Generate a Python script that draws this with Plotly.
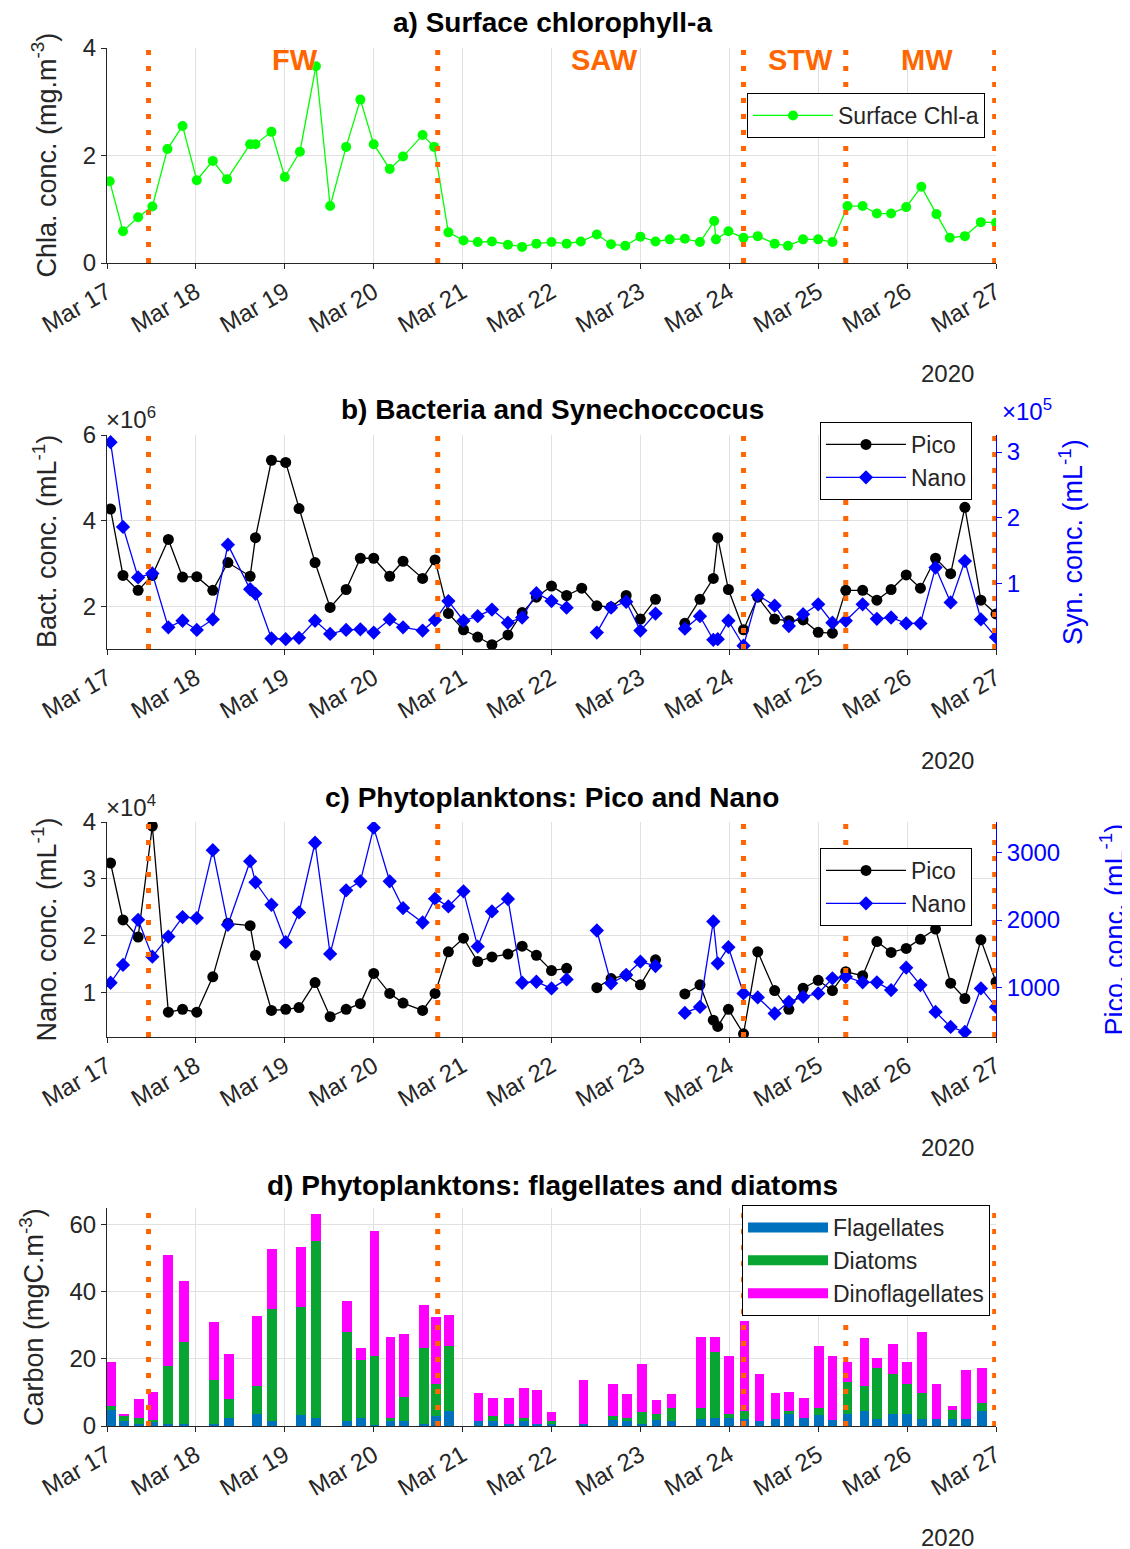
import plotly.graph_objects as go
import pandas as pd

# ---------------- DATA ----------------
START = "2020-03-17"

# sampling times, in days after 2020-03-17 00:00
t_chl = [0.03,0.18,0.35,0.51,0.68,0.85,1.01,1.19,1.35,1.61,1.67,1.85,2.00,2.17,2.35,2.51,2.69,2.85,3.00,3.18,3.33,3.55,3.68,3.84,4.01,4.17,4.33,4.51,4.67,4.83,5.00,5.17,5.33,5.51,5.67,5.83,6.00,6.17,6.33,6.50,6.67,6.83,6.85,6.99,7.16,7.32,7.51,7.66,7.83,8.00,8.16,8.33,8.50,8.66,8.82,8.99,9.16,9.33,9.48,9.65,9.83,10.0]
chl = [1.52,0.59,0.85,1.05,2.12,2.55,1.54,1.90,1.56,2.21,2.21,2.44,1.60,2.07,3.66,1.06,2.16,3.04,2.21,1.75,1.98,2.38,2.16,0.57,0.42,0.39,0.40,0.34,0.30,0.36,0.39,0.36,0.40,0.53,0.35,0.32,0.49,0.40,0.44,0.45,0.39,0.78,0.44,0.59,0.47,0.50,0.36,0.32,0.44,0.44,0.39,1.06,1.06,0.92,0.92,1.04,1.42,0.91,0.47,0.50,0.76,0.75]

t_fcm = [0.04,0.18,0.35,0.51,0.69,0.85,1.01,1.19,1.36,1.61,1.67,1.85,2.01,2.16,2.34,2.51,2.69,2.85,3.00,3.18,3.33,3.55,3.69,3.84,4.01,4.17,4.33,4.51,4.67,4.83,5.00,5.17,5.34,5.51,5.67,5.84,6.00,6.17,6.33,6.50,6.67,6.82,6.87,6.99,7.16,7.32,7.51,7.67,7.83,8.00,8.16,8.31,8.50,8.66,8.82,8.99,9.15,9.32,9.49,9.65,9.83,10.0]
# panel b: bacteria (x1e6, left) and synechococcus (x1e5, right)
bact = [4.27,2.72,2.37,2.72,3.56,2.68,2.69,2.37,3.02,2.70,3.60,5.41,5.36,4.28,3.02,1.97,2.39,3.12,3.12,2.70,3.05,2.65,3.08,1.83,1.45,1.28,1.10,1.33,1.85,2.21,2.47,2.25,2.42,2.01,1.98,2.25,1.70,2.16,None,1.60,2.16,2.65,3.60,2.39,1.45,2.21,1.70,1.66,1.68,1.39,1.37,2.37,2.37,2.14,2.39,2.73,2.42,3.12,2.76,4.31,2.14,1.82]
syn = [3.15,1.86,1.09,1.15,0.33,0.43,0.29,0.45,1.59,0.91,0.84,0.16,0.15,0.17,0.43,0.23,0.29,0.30,0.25,0.45,0.33,0.28,0.44,0.73,0.43,0.50,0.60,0.40,0.48,0.85,0.73,0.63,None,0.25,0.63,0.72,0.28,0.54,None,0.31,0.50,0.14,0.15,0.43,0.05,0.82,0.66,0.35,0.53,0.68,0.40,0.43,0.68,0.46,0.48,0.39,0.39,1.24,0.71,1.34,0.45,0.18]
# panel c: nano (x1e4, left) and pico (right)
nano = [3.28,2.28,1.98,3.93,0.66,0.71,0.66,1.28,2.22,2.18,1.66,0.69,0.71,0.74,1.18,0.58,0.71,0.81,1.34,0.99,0.82,0.69,0.99,1.72,1.96,1.55,1.63,1.68,1.82,1.66,1.39,1.43,None,1.09,1.25,1.31,1.14,1.58,None,0.98,1.14,0.52,0.41,0.71,0.28,1.72,1.04,0.71,1.08,1.22,1.04,1.37,1.30,1.90,1.71,1.78,1.94,2.12,1.17,0.90,1.93,1.19]
pico = [1069,1333,2004,1457,1755,2045,2030,3039,1930,2875,2561,2228,1672,2113,3149,1497,2442,2576,3373,2576,2179,1964,2318,2203,2427,1606,2128,2313,1069,1084,985,1119,None,1845,1060,1184,1382,1318,None,621,710,1979,1358,1597,910,851,612,785,860,910,1134,1158,1075,1075,960,1293,1034,636,412,337,985,710]

# panel d: carbon biomass (mgC m-3)
t_bar = [0.05,0.19,0.36,0.52,0.69,0.87,1.20,1.37,1.69,1.86,2.18,2.35,2.70,2.86,3.01,3.19,3.34,3.57,3.70,3.85,4.18,4.34,4.52,4.69,4.84,5.00,5.36,5.69,5.85,6.02,6.18,6.35,6.68,6.84,7.00,7.17,7.34,7.52,7.67,7.84,8.01,8.16,8.33,8.52,8.66,8.84,9.00,9.17,9.33,9.51,9.66,9.84]
flag = [4.9,1.4,0.7,1.4,0.7,0.7,0.7,2.5,3.7,1.4,3.2,2.5,1.4,2.5,0.3,1.4,1.4,0.7,2.9,4.4,1.4,1.4,0.7,1.6,0.7,0.5,0.7,1.9,1.4,0.7,1.9,1.4,2.0,2.5,2.5,2.1,1.4,2.0,3.7,2.5,3.2,1.9,3.7,4.4,2.0,3.7,3.7,2.0,2.0,2.0,2.0,4.4]
diat = [1.1,1.8,1.8,0.3,17.2,24.2,13.0,5.4,8.3,33.5,32.2,52.4,26.4,17.2,20.6,1.1,7.1,22.5,9.6,19.3,0.0,1.6,0.0,0.9,0.0,1.0,0.0,1.1,1.1,3.5,1.8,4.0,3.4,19.5,1.2,2.3,0.0,0.0,0.7,0.0,2.2,0.0,9.5,7.6,15.2,11.8,8.8,7.7,0.0,2.9,0.0,2.3]
dino = [13.0,0.5,5.4,8.4,32.9,18.2,17.1,13.5,20.6,17.7,17.7,8.2,9.5,3.5,37.0,24.1,18.7,12.7,20.0,9.4,8.3,5.4,7.7,8.9,10.0,2.7,13.0,9.5,7.0,14.2,4.0,4.1,21.2,4.6,17.2,26.9,14.1,7.7,5.8,5.9,18.3,19.0,5.8,14.2,3.0,8.9,6.5,18.1,10.5,1.1,14.7,10.5]

# water-mass boundaries (days after start) and labels
boundaries = [0.467, 3.72, 7.16, 8.31, 9.985]
mass_names = ["FW", "SAW", "STW", "MW"]
mass_label_days = [2.12, 5.60, 7.80, 9.22]

# ---------------- HELPERS ----------------
T0 = pd.Timestamp(START)
def tt(days):
    return [T0 + pd.Timedelta(days=d) for d in days]

W, H = 1130, 1549
OFF = 8  # page body margin of the html page
def fx(p): return (p - OFF) / W
def fy(p): return 1 - (p - OFF) / H

FONT = "Liberation Sans, Arial, sans-serif"
AX = "#262626"
GRID = "#E1E1E1"
ORANGE = "#FF6600"
BLUE = "#0000FF"
TICK_SIZE = 24
LAB_SIZE = 27
C_FLAG, C_DIAT, C_DINO = "#0072BD", "#09A533", "#FF00FF"

panels = [(48, 263), (435, 649), (822, 1037), (1208, 1426)]
XDOM = [fx(107), fx(996)]

fig = go.Figure()

# panel a
fig.add_trace(go.Scatter(x=tt(t_chl), y=chl, mode="lines+markers", name="Surface Chl-a",
                         line=dict(color="#00FF00", width=1.3),
                         marker=dict(symbol="circle", size=10, color="#00FF00"),
                         xaxis="x", yaxis="y", legend="legend"))
# panel b
fig.add_trace(go.Scatter(x=tt(t_fcm), y=bact, mode="lines+markers", name="Pico",
                         line=dict(color="black", width=1.3),
                         marker=dict(symbol="circle", size=11, color="black"),
                         xaxis="x2", yaxis="y2", legend="legend2"))
fig.add_trace(go.Scatter(x=tt(t_fcm), y=syn, mode="lines+markers", name="Nano",
                         line=dict(color=BLUE, width=1.3),
                         marker=dict(symbol="diamond", size=11, color=BLUE),
                         xaxis="x2", yaxis="y3", legend="legend2"))
# panel c
fig.add_trace(go.Scatter(x=tt(t_fcm), y=nano, mode="lines+markers", name="Pico",
                         line=dict(color="black", width=1.3),
                         marker=dict(symbol="circle", size=11, color="black"),
                         xaxis="x3", yaxis="y4", legend="legend3"))
fig.add_trace(go.Scatter(x=tt(t_fcm), y=pico, mode="lines+markers", name="Nano",
                         line=dict(color=BLUE, width=1.3),
                         marker=dict(symbol="diamond", size=11, color=BLUE),
                         xaxis="x3", yaxis="y5", legend="legend3"))
# panel d
BAR_W = 0.11 * 86400000
for name, vals, col in [("Flagellates", flag, C_FLAG),
                        ("Diatoms", diat, C_DIAT),
                        ("Dinoflagellates", dino, C_DINO)]:
    fig.add_trace(go.Bar(x=tt(t_bar), y=vals, name=name, width=BAR_W,
                         marker=dict(color=col, line=dict(width=0)), showlegend=False,
                         xaxis="x4", yaxis="y6"))
# legend swatches (wide rectangles like the original legend)
for name, col in [("Flagellates", C_FLAG), ("Diatoms", C_DIAT), ("Dinoflagellates", C_DINO)]:
    fig.add_trace(go.Scatter(x=[None], y=[None], mode="lines", name=name,
                             line=dict(color=col, width=20),
                             xaxis="x4", yaxis="y6", legend="legend4"))

# axes
def xax(anchor):
    return dict(type="date", range=[T0, T0 + pd.Timedelta(days=10)], domain=XDOM,
                anchor=anchor, tickformat="%b %d", dtick=86400000, tick0=T0,
                tickangle=-30, showgrid=True, gridcolor=GRID, gridwidth=1,
                ticks="outside", ticklen=5, tickcolor=AX, showline=True,
                linecolor=AX, linewidth=1, zeroline=False, automargin=False,
                tickfont=dict(size=TICK_SIZE, color=AX, family=FONT))

def yax(anchor, top, bot, rng, tickvals):
    return dict(domain=[fy(bot), fy(top)], anchor=anchor, range=rng, tickvals=tickvals,
                showgrid=True, gridcolor=GRID, gridwidth=1, ticks="outside", ticklen=5,
                tickcolor=AX, showline=True, linecolor=AX, linewidth=1, zeroline=False,
                automargin=False,
                tickfont=dict(size=TICK_SIZE, color=AX, family=FONT))

def yright(anchor, overlay, rng, tickvals):
    return dict(anchor=anchor, overlaying=overlay, side="right", range=rng, tickvals=tickvals,
                showgrid=False, ticks="outside", ticklen=5, tickcolor=BLUE, showline=True,
                linecolor=BLUE, linewidth=1, zeroline=False, automargin=False,
                tickfont=dict(size=TICK_SIZE, color=BLUE, family=FONT))

(ta, ba), (tb, bb), (tc, bc), (td, bd) = panels
fig.update_layout(
    xaxis=xax("y"),
    xaxis2=xax("y2"),
    xaxis3=xax("y4"),
    xaxis4=xax("y6"),
    yaxis=yax("x", ta, ba, [0, 4], [0, 2, 4]),
    yaxis2=yax("x2", tb, bb, [1, 6], [2, 4, 6]),
    yaxis3=yright("x2", "y2", [0, 3.26], [1, 2, 3]),
    yaxis4=yax("x3", tc, bc, [0.224, 4], [1, 2, 3, 4]),
    yaxis5=yright("x3", "y4", [263, 3457], [1000, 2000, 3000]),
    yaxis6=yax("x4", td, bd, [0, 64.8], [0, 20, 40, 60]),
)

# legends
def leg(x_right, y_top, itemw=80):
    return dict(x=fx(x_right), xanchor="right", y=fy(y_top), yanchor="top",
                bordercolor="black", borderwidth=1, bgcolor="white",
                font=dict(size=23, color=AX, family=FONT), itemwidth=itemw,
                traceorder="normal", tracegroupgap=0)

fig.update_layout(
    legend=leg(985, 93),
    legend2=leg(972, 422),
    legend3=leg(972, 848),
    legend4=leg(990, 1205),
    barmode="stack",
    width=W, height=H,
    margin=dict(l=0, r=0, t=0, b=0, autoexpand=False),
    paper_bgcolor="white", plot_bgcolor="white",
    font=dict(family=FONT, color=AX),
    showlegend=True,
)

# water-mass boundary lines (dotted orange) on every panel
xrefs = ["x", "x2", "x3", "x4"]
yrefs = ["y", "y2", "y4", "y6"]
for xr, yr in zip(xrefs, yrefs):
    for b in boundaries:
        ts = T0 + pd.Timedelta(days=b)
        fig.add_shape(type="line", xref=xr, yref=yr + " domain", x0=ts, x1=ts, y0=0, y1=1,
                      line=dict(color=ORANGE, width=5, dash="5px,11px"), layer="above")

def note(x, y, text, size, color, xanchor="center", angle=0):
    fig.add_annotation(x=x, y=y, xref="paper", yref="paper", text=text, showarrow=False,
                       xanchor=xanchor, yanchor="middle", textangle=angle,
                       font=dict(size=size, color=color, family=FONT))

# water-mass labels
for name, d in zip(mass_names, mass_label_days):
    fig.add_annotation(x=T0 + pd.Timedelta(days=d), xref="x", y=fy(60), yref="paper",
                       yanchor="middle", text="<b>%s</b>" % name, showarrow=False,
                       font=dict(size=29, color=ORANGE, family=FONT))

# panel titles
titles = ["a) Surface chlorophyll-a", "b) Bacteria and Synechoccocus",
          "c) Phytoplanktons: Pico and Nano", "d) Phytoplanktons: flagellates and diatoms"]
title_y = [22, 410, 797, 1185]
for t, y in zip(titles, title_y):
    note(fx(552), fy(y), "<b>%s</b>" % t, 28, "black")

# axis titles
left_titles = ["Chla. conc. (mg.m<sup>-3</sup>)", "Bact. conc. (mL<sup>-1</sup>)",
               "Nano. conc. (mL<sup>-1</sup>)", "Carbon (mgC.m<sup>-3</sup>)"]
left_x = [45, 45, 45, 32]
for t, xp, (top, bot) in zip(left_titles, left_x, panels):
    note(fx(xp), fy((top + bot) / 2), t, LAB_SIZE, AX, angle=-90)
note(fx(1071), fy((tb + bb) / 2), "Syn. conc. (mL<sup>-1</sup>)", LAB_SIZE, BLUE, angle=-90)
note(fx(1113), fy((tc + bc) / 2), "Pico. conc. (mL<sup>-1</sup>)", LAB_SIZE, BLUE, angle=-90)

# year labels
for y in [373, 760, 1147, 1537]:
    note(fx(947), fy(y), "2020", TICK_SIZE, AX)

# exponent labels
note(fx(104), fy(418), "\u00d710<sup>6</sup>", TICK_SIZE, AX, xanchor="left")
note(fx(104), fy(806), "\u00d710<sup>4</sup>", TICK_SIZE, AX, xanchor="left")
note(fx(1000), fy(410), "\u00d710<sup>5</sup>", TICK_SIZE, BLUE, xanchor="left")

fig.write_html("out.html")
